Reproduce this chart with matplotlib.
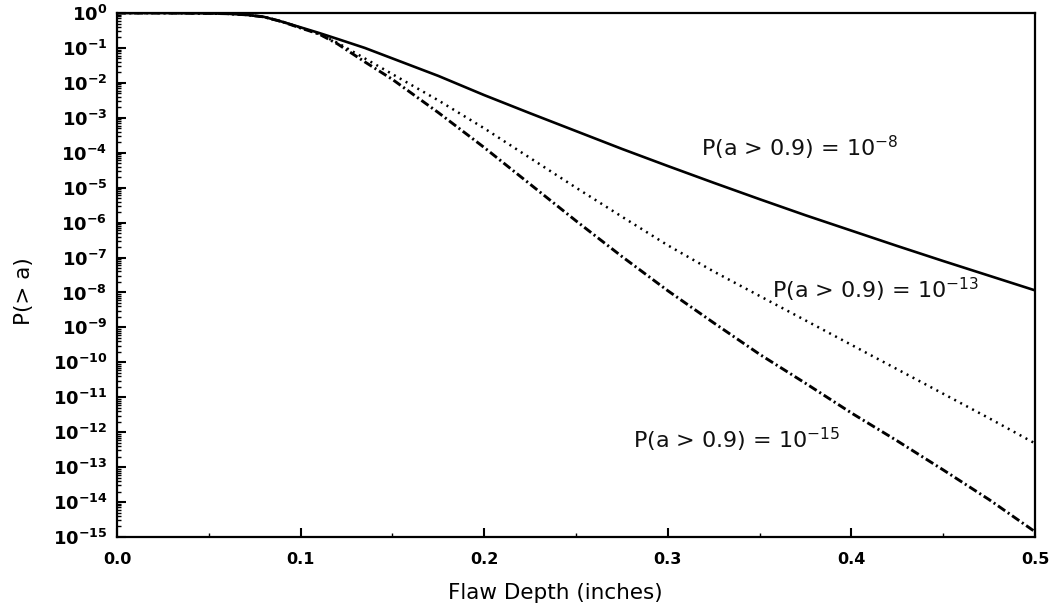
import numpy as np
import matplotlib
matplotlib.use("Agg")
import matplotlib.pyplot as plt
from matplotlib.ticker import FixedLocator, FuncFormatter, MultipleLocator

plt.rcParams["font.family"] = ["DejaVu Sans"]
plt.rcParams["mathtext.fontset"] = "dejavusans"

# Flaw depth (inches) and -log10 of the exceedance probability P(> a)
depth = [0.0, 0.025, 0.05, 0.06, 0.07, 0.08, 0.09, 0.1, 0.11, 0.12, 0.135,
         0.15, 0.175, 0.2, 0.225, 0.25, 0.275, 0.3, 0.325, 0.35, 0.375,
         0.4, 0.425, 0.45, 0.475, 0.5]
neglog_p8 = [0.0, 0.0, 0.01, 0.02, 0.05, 0.11, 0.25, 0.41, 0.57, 0.74, 1.0,
             1.3, 1.8, 2.35, 2.87, 3.38, 3.89, 4.38, 4.86, 5.33, 5.79,
             6.23, 6.67, 7.1, 7.52, 7.94]
neglog_p13 = [0.0, 0.0, 0.01, 0.02, 0.05, 0.11, 0.25, 0.42, 0.6, 0.85, 1.3,
              1.75, 2.5, 3.3, 4.15, 5.0, 5.83, 6.65, 7.4, 8.1, 8.8,
              9.5, 10.2, 10.9, 11.6, 12.32]
neglog_p15 = [0.0, 0.0, 0.01, 0.02, 0.05, 0.11, 0.25, 0.43, 0.6, 0.88, 1.4,
              1.9, 2.85, 3.85, 4.9, 5.95, 6.97, 7.95, 8.87, 9.77, 10.6,
              11.45, 12.25, 13.08, 13.93, 14.85]

curve_labels = [r"P(a > 0.9) = 10$^{-8}$",
                r"P(a > 0.9) = 10$^{-13}$",
                r"P(a > 0.9) = 10$^{-15}$"]
label_x = [0.318, 0.357, 0.281]
label_neglog = [3.87, 7.94, 12.23]

decades = list(range(0, 16))
x_ticks = [0.0, 0.1, 0.2, 0.3, 0.4, 0.5]

fig = plt.figure(figsize=(10.51, 6.08), dpi=100)
ax = fig.add_axes([0.1113, 0.1168, 0.8735, 0.8618])

x = np.array(depth)
ax.plot(x, 10.0 ** -np.array(neglog_p8), color="black", lw=1.9,
        linestyle="-", solid_capstyle="butt")
ax.plot(x, 10.0 ** -np.array(neglog_p13), color="black", lw=1.8,
        linestyle=(0, (0.8, 1.9)))
ax.plot(x, 10.0 ** -np.array(neglog_p15), color="black", lw=2.1,
        linestyle=(0, (3.0, 1.1, 0.7, 1.1)))

for txt, lx, ly in zip(curve_labels, label_x, label_neglog):
    ax.text(lx, 10.0 ** -ly, txt, ha="left", va="center", fontsize=16,
            color="#111111")

ax.set_yscale("log")
ax.set_xlim(0.0, 0.5)
ax.set_ylim(1e-15, 1.0)

ax.yaxis.set_major_locator(FixedLocator([10.0 ** -k for k in decades]))
ax.yaxis.set_minor_locator(FixedLocator(
    [s * 10.0 ** -k for k in decades[1:] for s in range(2, 10)]))
ax.yaxis.set_major_formatter(FuncFormatter(
    lambda v, p: r"$\mathbf{10^{%d}}$" % int(round(np.log10(v)))))
ax.yaxis.set_minor_formatter(FuncFormatter(lambda v, p: ""))

ax.xaxis.set_major_locator(FixedLocator(x_ticks))
ax.xaxis.set_minor_locator(MultipleLocator(0.05))
ax.xaxis.set_major_formatter(FuncFormatter(lambda v, p: f"{v:.1f}"))

ax.tick_params(axis="both", which="major", direction="in", length=6.5,
               width=1.5, color="black")
ax.tick_params(axis="both", which="minor", direction="in", length=3,
               width=1.0, color="black")
ax.tick_params(axis="y", which="major", labelsize=13, pad=7)
ax.tick_params(axis="x", which="major", labelsize=11.5, pad=11)
ax.tick_params(top=False, right=False, which="both")
for lbl in ax.get_xticklabels():
    lbl.set_fontweight("bold")

for sp in ax.spines.values():
    sp.set_linewidth(1.6)
    sp.set_color("black")

ax.set_xlabel("Flaw Depth (inches)", fontsize=15.5)
ax.set_ylabel("P(> a)", fontsize=15.5)
ax.xaxis.set_label_coords(0.477, -0.088)
ax.yaxis.set_label_coords(-0.090, 0.47)

fig.savefig("out.png", dpi=100, facecolor="white")
